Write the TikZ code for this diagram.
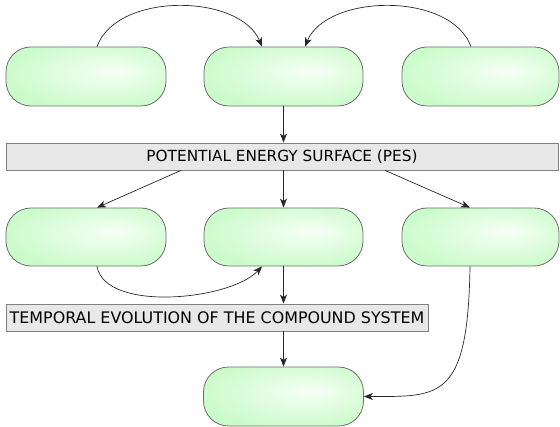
\documentclass[tikz,border=0pt]{standalone}
\usepackage{fontspec}
\setmainfont{DejaVu Sans}
\usetikzlibrary{arrows.meta}
\definecolor{boxgreen}{RGB}{202,251,202}
\definecolor{boxlight}{RGB}{246,255,246}
\definecolor{boxborder}{RGB}{110,110,110}
\definecolor{barfill}{RGB}{232,232,232}
\definecolor{barborder}{RGB}{128,128,128}
\definecolor{linec}{RGB}{40,40,40}
\pgfdeclareradialshading{boxshade}{\pgfpoint{9bp}{5bp}}{color(0bp)=(boxlight); color(30bp)=(boxgreen); color(50bp)=(boxgreen)}
\tikzset{
  pill/.style={draw=boxborder, line width=0.8pt, shading=boxshade, rounded corners=25pt,
    minimum width=160pt, minimum height=59pt, inner sep=0pt},
  bar/.style={draw=barborder, line width=0.8pt, fill=barfill, inner sep=0pt},
  conn/.style={draw=linec, line width=0.7pt, -{Stealth[length=9pt,width=7pt,inset=2.5pt]}}
}
\begin{document}
\begin{tikzpicture}[x=1pt,y=-1pt]
\useasboundingbox (0,0) rectangle (560,427);
\node[pill] (b1) at (86,76.5) {};
\node[pill, minimum width=159pt] (b2) at (283.5,76.5) {};
\node[pill, minimum width=157pt] (b3) at (480.5,76.5) {};
\node[bar, minimum width=552pt, minimum height=27pt, font=\fontsize{15.3}{18}\selectfont] (pes) at (282,156.5) {POTENTIAL ENERGY SURFACE (PES)};
\node[pill, minimum height=58pt] (b4) at (86,237) {};
\node[pill, minimum width=159pt, minimum height=58pt] (b5) at (283.5,237) {};
\node[pill, minimum width=157pt, minimum height=58pt] (b6) at (480.5,237) {};
\node[bar, minimum width=422pt, minimum height=27pt, font=\fontsize{15.9}{18}\selectfont] (tmp) at (217,317.5) {TEMPORAL EVOLUTION OF THE COMPOUND SYSTEM};
\node[pill] (b7) at (283.5,396.5) {};

\draw[conn] ([xshift=11pt]b1.north) .. controls +(20,-55) and +(-22,-53) .. ([xshift=-21.5pt]b2.north);
\draw[conn] ([xshift=-9.5pt]b3.north) .. controls +(-20,-55) and +(22,-53) .. ([xshift=21.5pt]b2.north);
\draw[conn] (b2.south) -- (b2.south |- pes.north);
\draw[conn] ([xshift=-101pt]pes.south) -- ([xshift=11pt]b4.north);
\draw[conn] (pes.south -| b5.north) -- (b5.north);
\draw[conn] ([xshift=103pt]pes.south) -- ([xshift=-10.5pt]b6.north);
\draw[conn] ([xshift=11pt]b4.south) .. controls +(8,46) and +(-32,34) .. ([xshift=-21.5pt]b5.south);
\draw[conn] (b5.south) -- (b5.south |- tmp.north);
\draw[conn] (b7.north |- tmp.south) -- (b7.north);
\draw[conn] ([xshift=-10.5pt]b6.south) .. controls +(-2,134) and +(76,0) .. (b7.east);
\end{tikzpicture}
\end{document}
